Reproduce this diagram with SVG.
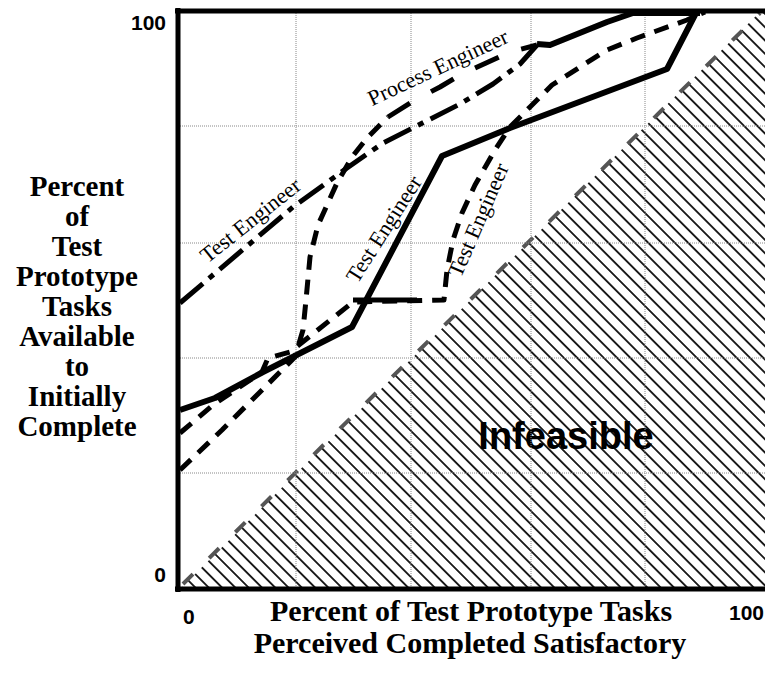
<svg xmlns="http://www.w3.org/2000/svg" width="765" height="682" viewBox="0 0 765 682">
<style>
.grid{stroke:#888;stroke-width:1;stroke-dasharray:1 1;fill:none}
.frame{stroke:#000;stroke-width:5;fill:none}
.ln{fill:none;stroke:#000;stroke-linejoin:round}
.solid{stroke-width:6}
.dd{stroke-width:5;stroke-dasharray:30 8 6 8}
.ld{stroke-width:5;stroke-dasharray:26 24}
.md{stroke-width:5;stroke-dasharray:15 10}
.ax{font-family:"Liberation Serif",serif;font-weight:bold;fill:#000;text-anchor:middle}
.tick{font-family:"Liberation Sans",Arial,sans-serif;font-weight:bold;font-size:21px;fill:#000}
.lbl{font-family:"Liberation Serif",serif;font-size:22px;fill:#000;text-anchor:middle}
</style>
<defs>
<pattern id="hatch" patternUnits="userSpaceOnUse" width="9.4" height="9.4" patternTransform="rotate(45)">
<line x1="-1" y1="4.7" x2="10.4" y2="4.7" stroke="#000" stroke-width="1.7"/>
</pattern>
<clipPath id="infz"><polygon points="180,589 762,10 765,10 765,589"/></clipPath>
</defs>
<rect width="765" height="682" fill="#fff"/>
<g id="infeasible">
<rect x="178" y="8" width="590" height="584" fill="url(#hatch)" clip-path="url(#infz)"/>
<line x1="183" y1="584" x2="760" y2="13" stroke="#555" stroke-width="4" stroke-dasharray="14 22.8"/>
<text x="566" y="449" font-family="Liberation Sans,Arial,sans-serif" font-weight="bold" font-size="38" text-anchor="middle">Infeasible</text>
</g>
<g id="grid">
<line class="grid" x1="296" y1="11" x2="296" y2="589"/>
<line class="grid" x1="411" y1="11" x2="411" y2="589"/>
<line class="grid" x1="531" y1="11" x2="531" y2="589"/>
<line class="grid" x1="645" y1="11" x2="645" y2="589"/>
<line class="grid" x1="178" y1="126" x2="765" y2="126"/>
<line class="grid" x1="178" y1="243" x2="765" y2="243"/>
<line class="grid" x1="178" y1="358" x2="765" y2="358"/>
<line class="grid" x1="178" y1="473" x2="765" y2="473"/>
</g>
<g id="frame">
<line class="frame" x1="178" y1="8" x2="178" y2="592"/>
<line class="frame" x1="175" y1="11" x2="765" y2="11"/>
<line class="frame" x1="175" y1="589" x2="765" y2="589"/>
</g>
<g id="connectors">
<path id="solid-test" class="ln solid" d="M180,410 L215,398 L263,372 L352,327 L442,156 L510,128 L667,69 L697,11"/>
<path id="dashdot-test" class="ln dd" d="M180,303 L293,207 L347,168 L383,143 L460,104 L493,84 L520,64 L537,45"/>
<path id="process-low" class="ln md" d="M180,470 L222,430 L295,357 L303,330 L306,300 L310,257 L318,225 L337,183 L352,157 L367,138 L388,117"/>
<path id="process-high" class="ln ld" d="M388,117 L415,100 L440,87 L460,75 L510,52 L537,45"/>
<path id="merge" class="ln solid" d="M537,44 L550,45 L607,22 L633,13 L700,13"/>
<path id="testright" class="ln md" d="M180,433 L213,405 L262,372 L268,358 L290,352 L353,302 L444,300 L447,270 L453,240 L462,213 L475,185 L495,150 L510,127 L530,107 L552,85 L580,67 L607,50 L637,38 L687,20 L705,12"/>
<line class="ln" stroke-width="5" x1="353" y1="300" x2="417" y2="300"/>
</g>
<g id="curve-labels">
<text class="lbl" transform="translate(441,74) rotate(-25)">Process Engineer</text>
<text class="lbl" transform="translate(255,226) rotate(-38.5)">Test Engineer</text>
<text class="lbl" transform="translate(390,233) rotate(-57.5)">Test Engineer</text>
<text class="lbl" transform="translate(485,223) rotate(-66.5)">Test Engineer</text>
</g>
<g id="ticks">
<text class="tick" x="166" y="30" text-anchor="end">100</text>
<text class="tick" x="166" y="582" text-anchor="end">0</text>
<text class="tick" x="183" y="624">0</text>
<text class="tick" x="764" y="620" text-anchor="end">100</text>
</g>
<g id="y-title" font-size="29">
<text class="ax" x="77" y="196">Percent</text>
<text class="ax" x="77" y="226">of</text>
<text class="ax" x="77" y="256">Test</text>
<text class="ax" x="77" y="286">Prototype</text>
<text class="ax" x="77" y="316">Tasks</text>
<text class="ax" x="77" y="346">Available</text>
<text class="ax" x="77" y="376">to</text>
<text class="ax" x="77" y="406">Initially</text>
<text class="ax" x="77" y="436">Complete</text>
</g>
<g id="x-title" font-size="30">
<text class="ax" x="471" y="621">Percent of Test Prototype Tasks</text>
<text class="ax" x="470" y="653">Perceived Completed Satisfactory</text>
</g>
</svg>
